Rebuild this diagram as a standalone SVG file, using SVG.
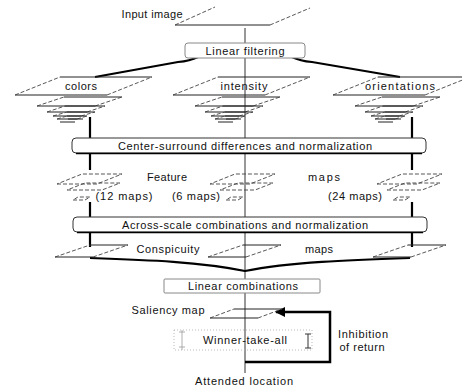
<svg xmlns="http://www.w3.org/2000/svg" xmlns:xlink="http://www.w3.org/1999/xlink" width="462" height="391" viewBox="0 0 462 391">
<style>
text{font-family:"Liberation Sans",Arial,sans-serif;font-size:11px;fill:#111}
.c{text-anchor:middle}
.dash{fill:none;stroke:#444;stroke-width:0.9;stroke-dasharray:4,2}
.sol{fill:none;stroke:#222;stroke-width:1}
.thin{fill:none;stroke:#333;stroke-width:1}
.thick{fill:none;stroke:#000;stroke-width:2.2}
.box{fill:#fff;stroke:#333;stroke-width:1}
.lbox{fill:#fff;stroke:#888;stroke-width:1}
</style>
<defs>
<g id="pyr">
<path class="sol" d="M0,0H92M45,-18H137"/><path class="dash" d="M0,0L45,-18M92,0L137,-18"/>
<path class="sol" d="M22,11H80M49,2H107"/><path class="dash" d="M22,11L49,2M80,11L107,2"/>
<path class="sol" d="M32,17H72M50,11H90"/><path class="dash" d="M32,17L50,11M72,17L90,11"/>
<path class="sol" d="M38,21H66M52,17H80"/><path class="dash" d="M38,21L52,17M66,21L80,17"/>
<path class="sol" d="M42,24H62M52,21H72"/><path class="dash" d="M42,24L52,21M62,24L72,21"/>
<path class="sol" d="M45,27H60M53,24H68"/>
</g>
<g id="fstack">
<path class="dash" d="M0,12H40L65,2H25Z"/>
<path class="dash" d="M10,18H45L63,11H28Z"/>
<path class="dash" d="M16,28H28L33,25H21Z"/>
</g>
<g id="cmap">
<path class="sol" d="M0,12H38M35,0H73"/><path class="dash" d="M0,12L35,0M38,12L73,0"/>
</g>
<marker id="ah" viewBox="0 0 10 10" refX="9" refY="5" markerWidth="4" markerHeight="4" orient="auto"><path d="M0,0L10,5L0,10Z" fill="#000"/></marker>
</defs>

<g id="connectors">
<path class="thin" d="M245,28V43M245,58V138M245,153V217M245,232V279M245,293V373"/>
<path class="thick" d="M90,117V138M90,153V170M90,202V217M90,232V247"/>
<path class="thick" d="M412,117V138M412,153V170M412,202V217M412,232V247"/>
<path class="thick" d="M198,57Q190,61 178,62L95,77"/>
<path class="thick" d="M292,57Q300,61 312,62L400,77"/>
<path class="thick" d="M90,258C150,260 200,262 245,271C290,262 350,260 410,258"/>
<path d="M245,362H330V312H276" fill="none" stroke="#000" stroke-width="2.5" marker-end="url(#ah)"/>
</g>

<g id="input-image">
<path class="sol" d="M175,25H270"/><path class="dash" d="M175,25L215,7M270,25L310,8"/>
<text x="152" y="18" class="c" textLength="61">Input image</text>
</g>

<g id="linear-filtering">
<rect class="lbox" x="185" y="43" width="120" height="15" rx="3"/>
<text x="245" y="55" class="c" textLength="79">Linear filtering</text>
</g>

<g id="colors">
<use xlink:href="#pyr" x="15" y="95"/>
<text x="81" y="90" class="c" textLength="32">colors</text>
</g>
<g id="intensity">
<use xlink:href="#pyr" x="173" y="95"/>
<text x="244" y="90" class="c" textLength="47">intensity</text>
</g>
<g id="orientations">
<use xlink:href="#pyr" x="333" y="95"/>
<text x="400" y="90" class="c" textLength="70">orientations</text>
</g>

<g id="center-surround">
<rect class="box" x="72" y="138" width="354" height="15" rx="4"/>
<path d="M76,153.5H422" stroke="#000" stroke-width="1.5"/>
<text x="245" y="150" class="c" textLength="254">Center-surround differences and normalization</text>
</g>

<g id="feature-maps">
<use xlink:href="#fstack" x="57" y="172"/>
<use xlink:href="#fstack" x="210" y="172"/>
<use xlink:href="#fstack" x="377" y="172"/>
<text x="167" y="181" class="c" textLength="40">Feature</text>
<text x="324" y="181" class="c" textLength="32">maps</text>
<text x="124" y="200" class="c" textLength="57">(12 maps)</text>
<text x="196" y="200" class="c" textLength="48">(6 maps)</text>
<text x="355" y="200" class="c" textLength="54">(24 maps)</text>
</g>

<g id="across-scale">
<rect class="box" x="73" y="217" width="354" height="15" rx="4"/>
<path d="M77,232.5H423" stroke="#000" stroke-width="1.5"/>
<text x="245" y="229" class="c" textLength="246">Across-scale combinations and normalization</text>
</g>

<g id="conspicuity-maps">
<use xlink:href="#cmap" x="55" y="245"/>
<use xlink:href="#cmap" x="208" y="245"/>
<use xlink:href="#cmap" x="373" y="245"/>
<text x="168" y="253" class="c" textLength="63">Conspicuity</text>
<text x="319" y="253" class="c" textLength="28">maps</text>
</g>

<g id="linear-combinations">
<rect class="lbox" x="164" y="279" width="156" height="14" rx="1"/>
<text x="243" y="290" class="c" textLength="110">Linear combinations</text>
</g>

<g id="saliency-map">
<path class="sol" d="M210,318H258M234,309H282"/><path class="dash" d="M210,318L234,309M258,318L282,309"/>
<text x="168" y="314" class="c" textLength="73">Saliency map</text>
</g>

<g id="wta">
<rect x="174" y="330" width="138" height="20" fill="none" stroke="#aaa" stroke-width="0.8" stroke-dasharray="1,2"/>
<path d="M182,330V350M179,332H185M179,347H185" fill="none" stroke="#999" stroke-width="0.8"/>
<path d="M308,334V348M305,334H311M305,348H311" fill="none" stroke="#333" stroke-width="1"/>
<text x="245" y="344" class="c" textLength="84">Winner-take-all</text>
</g>

<g id="inhibition">
<text x="363" y="338" class="c" textLength="50">Inhibition</text>
<text x="362" y="351" class="c" textLength="45">of return</text>
</g>

<g id="attended-location">
<text x="244" y="385" class="c" textLength="98">Attended location</text>
</g>
</svg>
